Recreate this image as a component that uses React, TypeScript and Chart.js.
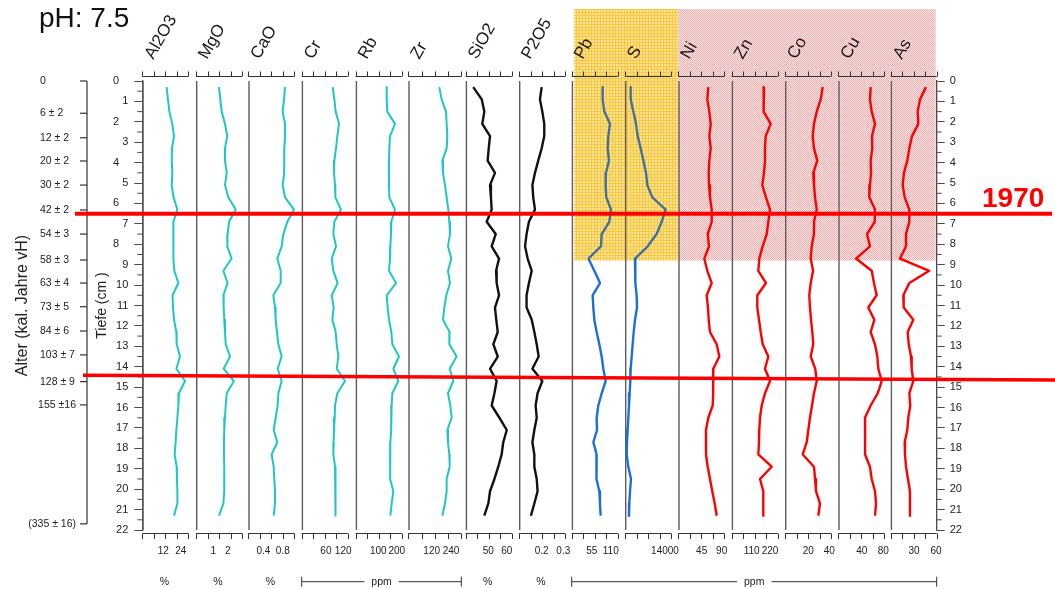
import React, { useEffect, useRef } from 'react';
import { Chart, registerables } from 'chart.js';

Chart.register(...registerables);

// ------------------------------------------------------------------ DATA
const depths = [0.3, 0.9, 1.5, 2.1, 2.7, 3.3, 3.9, 4.5, 5.1, 5.7, 6.3, 6.9, 7.5, 8.1, 8.7, 9.3, 9.9, 10.5, 11.1, 11.7, 12.3, 12.9, 13.5, 14.1, 14.7, 15.3, 15.9, 16.5, 17.1, 17.7, 18.3, 18.9, 19.5, 20.1, 20.7, 21.3];

const elements = ['Al2O3', 'MgO', 'CaO', 'Cr', 'Rb', 'Zr', 'SiO2', 'P2O5', 'Pb', 'S', 'Ni', 'Zn', 'Co', 'Cu', 'As'];

const al2o3 = [14.3, 15.2, 16.2, 18.2, 19.4, 18.0, 17.8, 18.2, 17.8, 19.1, 21.7, 18.9, 18.9, 18.9, 19.1, 19.6, 22.4, 18.4, 18.7, 19.4, 21.0, 21.2, 23.5, 21.0, 27.0, 22.8, 22.4, 21.7, 21.0, 20.5, 19.8, 21.2, 21.4, 21.7, 21.7, 19.4];
const mgo = [1.40, 1.49, 1.58, 1.81, 1.97, 1.81, 1.81, 1.93, 1.81, 2.04, 2.55, 2.09, 1.99, 1.97, 2.27, 1.70, 1.99, 1.70, 1.72, 1.76, 1.81, 1.86, 2.16, 1.72, 2.43, 1.93, 1.86, 1.81, 1.76, 1.74, 1.74, 1.76, 1.76, 1.76, 1.70, 1.40];
const cao = [0.846, 0.826, 0.798, 0.846, 0.846, 0.832, 0.832, 0.826, 0.798, 0.846, 1.032, 0.894, 0.812, 0.777, 0.688, 0.757, 0.757, 0.606, 0.640, 0.654, 0.681, 0.709, 0.777, 0.695, 0.777, 0.709, 0.695, 0.654, 0.613, 0.688, 0.571, 0.613, 0.626, 0.640, 0.640, 0.613];
const cr = [83.5, 89.3, 93.9, 105.5, 99.7, 95.1, 89.3, 88.1, 91.6, 92.8, 112.4, 89.3, 85.8, 95.1, 80.1, 85.8, 100.9, 80.1, 87.0, 82.4, 93.9, 97.4, 103.2, 97.4, 126.3, 99.7, 91.6, 90.5, 88.1, 87.0, 85.8, 91.6, 92.8, 93.9, 93.9, 92.8];
const rb = [145.4, 145.4, 149.0, 190.6, 163.5, 159.8, 158.0, 158.0, 158.0, 159.8, 190.6, 170.7, 168.9, 165.3, 163.5, 158.0, 196.0, 145.4, 150.8, 158.0, 170.7, 176.1, 212.3, 181.6, 208.7, 176.1, 172.5, 170.7, 168.9, 165.3, 163.5, 163.5, 165.3, 181.6, 172.5, 165.3];
const zr = [167.4, 181.9, 208.9, 213.0, 217.2, 213.0, 186.1, 190.2, 202.7, 213.0, 223.4, 229.6, 233.8, 221.3, 242.0, 221.3, 233.8, 211.0, 198.5, 190.2, 231.7, 229.6, 275.2, 231.7, 254.5, 221.3, 235.8, 244.1, 217.2, 221.3, 229.6, 231.7, 213.0, 213.0, 202.7, 186.1];
const sio2 = [41.8, 46.4, 47.8, 46.7, 50.9, 50.2, 49.6, 53.6, 50.9, 51.4, 51.8, 49.1, 54.0, 51.8, 55.8, 54.2, 54.5, 55.8, 53.6, 54.3, 55.1, 52.7, 55.1, 50.9, 54.5, 53.3, 51.8, 56.0, 60.0, 58.1, 57.2, 55.4, 53.3, 50.9, 50.0, 47.8];
const p2o5 = [0.200, 0.192, 0.203, 0.212, 0.212, 0.200, 0.184, 0.169, 0.157, 0.161, 0.169, 0.141, 0.130, 0.123, 0.135, 0.154, 0.141, 0.130, 0.130, 0.154, 0.166, 0.177, 0.186, 0.157, 0.203, 0.181, 0.172, 0.177, 0.166, 0.157, 0.166, 0.166, 0.177, 0.181, 0.166, 0.150];
const pb = [86.5, 86.5, 91.4, 107.7, 102.9, 101.0, 104.8, 96.2, 95.2, 97.1, 110.6, 105.8, 83.7, 81.7, 45.1, 62.5, 78.8, 57.6, 59.6, 62.5, 69.2, 76.9, 83.7, 88.5, 95.2, 83.7, 74.0, 69.2, 70.2, 59.6, 69.2, 68.2, 69.2, 76.9, 78.8, 80.8];
const s = [1985, 1985, 2918, 3852, 4435, 5485, 6418, 7352, 7818, 9568, 14235, 12835, 11085, 7935, 3502, 3502, 3735, 4085, 4202, 3502, 3035, 2685, 2335, 1985, 1868, 1635, 1402, 1168, 935, 702, 585, 1168, 2102, 1752, 1518, 1402];
const ni = [59.9, 57.7, 62.2, 65.3, 62.2, 65.3, 62.2, 60.8, 61.5, 63.7, 67.6, 67.6, 58.6, 61.5, 50.9, 57.7, 67.6, 56.3, 59.2, 60.8, 63.7, 78.8, 84.7, 71.2, 71.2, 70.5, 69.8, 59.9, 54.7, 54.7, 54.7, 58.6, 63.7, 68.9, 74.3, 78.8];
const zn = [183.9, 179.7, 183.9, 224.2, 194.1, 189.9, 189.9, 183.9, 173.7, 195.9, 220.0, 209.8, 200.2, 176.1, 155.7, 149.7, 195.9, 143.7, 143.7, 153.9, 164.1, 176.1, 209.8, 189.9, 220.0, 189.9, 170.1, 159.9, 155.7, 153.9, 149.7, 230.2, 159.9, 179.7, 179.7, 179.7];
const co = [33.7, 31.8, 28.0, 25.4, 24.2, 25.4, 28.5, 24.7, 25.4, 26.4, 28.0, 25.4, 25.4, 23.2, 22.3, 24.5, 22.3, 20.9, 21.6, 22.6, 23.8, 24.7, 22.3, 26.6, 28.0, 25.4, 23.5, 21.6, 20.0, 18.5, 14.7, 25.4, 26.4, 27.3, 31.1, 29.5];
const cu = [56.6, 55.3, 58.5, 64.6, 59.0, 59.6, 56.6, 57.2, 55.3, 54.1, 64.6, 64.0, 49.8, 55.3, 29.4, 58.5, 62.7, 67.7, 52.2, 63.3, 56.6, 64.6, 68.9, 70.7, 77.0, 69.6, 56.6, 46.1, 46.1, 46.1, 46.7, 55.3, 58.5, 64.6, 66.5, 64.6];
const as = [46.3, 38.2, 35.0, 35.8, 27.3, 23.6, 20.8, 16.3, 14.6, 17.3, 23.6, 23.6, 19.1, 19.1, 10.9, 50.8, 23.6, 15.4, 15.9, 29.0, 21.4, 22.8, 25.9, 26.8, 29.0, 23.6, 24.9, 22.2, 20.8, 17.3, 17.7, 19.1, 21.8, 24.5, 24.5, 24.5];

const seriesValues = [al2o3, mgo, cao, cr, rb, zr, sio2, p2o5, pb, s, ni, zn, co, cu, as];

// axis ranges of every panel (value at the panel's left edge, value at the end of its slot)
const axisMin = [-2.5, -0.19, 0.09, -24, -22.8, -25.5, 37.7, 0.095, -2.9, 0, -7.6, -10.2, -2.2, -3.3, -1.8];
const axisMax = [34.55, 3.42, 1.19, 163.4, 262.8, 331.5, 66.64, 0.339, 151.1, 18655, 112.55, 310.1, 48.54, 93.64, 60.94];
const axisTickValues = [[12, 24], [1, 2], [0.4, 0.8], [60, 120], [100, 200], [120, 240], [50, 60], [0.2, 0.3], [55, 110], [14000], [45, 90], [110, 220], [20, 40], [40, 80], [30, 60]];

const percentPanels = [0, 1, 2, 6, 7];
const ppmGroups = [[3, 5], [8, 14]];

const ageDepths = [0, 1.58, 2.78, 3.92, 5.1, 6.32, 7.5, 8.77, 9.9, 11.06, 12.25, 13.42, 14.73, 15.87, 21.7];
const ageLabels = ['0', '6 ± 2', '12 ± 2', '20 ± 2', '30 ± 2', '42 ± 2', '54 ± 3', '58 ± 3', '63 ± 4', '73 ± 5', '84 ± 6', '103 ± 7', '128 ± 9', '155 ±16', '(335 ± 16)'];

const marker1970Depth = 6.5;
const lowerMarkerDepths = [14.42, 14.65];
const shadedToDepth = 8.8;

// ------------------------------------------------------------------ STYLE
const SANS = "'Liberation Sans', Arial, Helvetica, sans-serif";
const AXIS_COLOR = '#4a4a4a';
const TEXT_COLOR = '#222222';
const CYAN = '#1fc6c8';
const BLACK = '#111111';
const BLUE = '#1b6fd8';
const SHADED_BLUE = '#41729e';
const RED = '#ff0000';
const lineColors = [CYAN, CYAN, CYAN, CYAN, CYAN, CYAN, BLACK, BLACK, BLUE, BLUE, RED, RED, RED, RED, RED];
const lineWidths = [2, 2, 2, 2, 2, 2, 2.4, 2.4, 2.4, 2.4, 2.4, 2.4, 2.4, 2.4, 2.4];
const panelWeights = [53.7, 52.3, 53.4, 54.0, 52.6, 57.4, 53.3, 52.7, 53.3, 53.3, 53.4, 53.3, 53.3, 52.4, 46.0];
const panelWidths = [46, 46, 46, 46, 46, 53, 46, 46, 46, 46, 46, 46, 46, 46, 46];

function makeTile(kind: 'yellow' | 'pink') {
  const c = document.createElement('canvas');
  const g = c.getContext('2d') as CanvasRenderingContext2D;
  if (kind === 'yellow') {
    c.width = 3; c.height = 3;
    g.fillStyle = '#FFE392'; g.fillRect(0, 0, 3, 3);
    g.fillStyle = '#F7C843'; g.fillRect(0, 0, 3, 1); g.fillRect(0, 0, 1, 3);
  } else {
    c.width = 2; c.height = 2;
    g.fillStyle = '#FDEBEB'; g.fillRect(0, 0, 2, 2);
    g.fillStyle = '#F5A8A8'; g.fillRect(0, 0, 1, 1); g.fillRect(1, 1, 1, 1);
  }
  return c;
}

function line(ctx: CanvasRenderingContext2D, x1: number, y1: number, x2: number, y2: number) {
  ctx.beginPath(); ctx.moveTo(x1, y1); ctx.lineTo(x2, y2); ctx.stroke();
}

const decorPlugin = {
  id: 'decor',
  beforeDatasetsDraw(chart: any) {
    const { ctx, chartArea: ca, scales } = chart;
    const ys = scales.y;
    const py = (d: number) => ys.getPixelForValue(d);
    ctx.save();

    // shaded zones
    const shadeTop = 9;
    const shadeBot = py(shadedToDepth);
    const yl = scales.x8.left + 2.5;
    const ym = scales.x10.left;
    const yr = scales.x14.right - 1;
    ctx.fillStyle = ctx.createPattern(makeTile('yellow'), 'repeat');
    ctx.fillRect(yl, shadeTop, ym - yl, shadeBot - shadeTop);
    ctx.fillStyle = ctx.createPattern(makeTile('pink'), 'repeat');
    ctx.fillRect(ym, shadeTop, yr - ym, shadeBot - shadeTop);

    // panels: left border, top and bottom tick rows, header label
    for (let i = 0; i < elements.length; i++) {
      const sc = scales['x' + i];
      const L = sc.left;
      const W = panelWidths[i];
      ctx.strokeStyle = '#5c5c5c';
      ctx.lineWidth = 1.4;
      line(ctx, L + 0.7, ca.top, L + 0.7, ca.bottom);
      ctx.strokeStyle = '#333';
      ctx.lineWidth = 1;
      const ty = ca.top - 4.5;
      const by = ca.bottom + 3.5;
      line(ctx, L, ty, L + W, ty);
      line(ctx, L, by, L + W, by);
      for (let j = 0; j <= 4; j++) {
        const x = Math.round(L + (j * W) / 4) + 0.5;
        line(ctx, x, ty, x, ty - 5);
        line(ctx, x, by, x, by + 5.5);
      }
      ctx.save();
      ctx.translate(L + 11, ca.top - 21);
      ctx.rotate(-Math.PI / 3);
      ctx.font = `17px ${SANS}`;
      ctx.fillStyle = '#1a1a1a';
      ctx.textAlign = 'left';
      ctx.textBaseline = 'alphabetic';
      ctx.fillText(elements[i], 0, 0);
      ctx.restore();
    }

    // minor depth ticks (half centimetres)
    ctx.strokeStyle = AXIS_COLOR;
    ctx.lineWidth = 1;
    for (let d = 0.5; d < 22; d += 1) {
      const y = py(d);
      line(ctx, ca.left - 5, y, ca.left, y);
      line(ctx, ca.right, y, ca.right + 5, y);
    }

    // age axis
    const ax = ca.left - 55.3;
    ctx.strokeStyle = '#333';
    ctx.lineWidth = 1.2;
    line(ctx, ax, py(0), ax, py(ageDepths[ageDepths.length - 1]));
    ctx.font = `10.5px ${SANS}`;
    ctx.fillStyle = TEXT_COLOR;
    ctx.textBaseline = 'middle';
    ctx.textAlign = 'left';
    ageDepths.forEach((d, k) => {
      const y = py(d);
      line(ctx, ax - 7, y, ax, y);
      const w = ctx.measureText(ageLabels[k]).width;
      const x = Math.min(40, ax - 11 - w);
      ctx.fillText(ageLabels[k], x, y);
    });
    ctx.save();
    ctx.translate(22.5, (ca.top + ca.bottom) / 2);
    ctx.rotate(-Math.PI / 2);
    ctx.font = `16px ${SANS}`;
    ctx.textAlign = 'center';
    ctx.textBaseline = 'middle';
    ctx.fillText('Alter (kal. Jahre vH)', 0, 0);
    ctx.restore();

    // units row
    const uy = ca.bottom + 51.7;
    ctx.font = `10.5px ${SANS}`;
    ctx.textAlign = 'center';
    ctx.textBaseline = 'middle';
    ctx.fillStyle = TEXT_COLOR;
    percentPanels.forEach((i) => {
      const sc = scales['x' + i];
      ctx.fillText('%', sc.left + panelWidths[i] / 2 - 1, uy);
    });
    ctx.strokeStyle = '#333';
    ctx.lineWidth = 1;
    ppmGroups.forEach(([a, b]) => {
      const x1 = scales['x' + a].left;
      const x2 = scales['x' + b].left + panelWidths[b];
      const mid = (x1 + x2) / 2;
      const w = ctx.measureText('ppm').width;
      line(ctx, x1, uy, mid - w / 2 - 7, uy);
      line(ctx, mid + w / 2 + 7, uy, x2, uy);
      line(ctx, x1, uy - 5, x1, uy + 5);
      line(ctx, x2, uy - 5, x2, uy + 5);
      ctx.fillText('ppm', mid, uy);
    });

    // pH caption
    ctx.font = `28px ${SANS}`;
    ctx.fillStyle = '#111';
    ctx.textAlign = 'left';
    ctx.textBaseline = 'alphabetic';
    ctx.fillText('pH: 7.5', 39, 27);

    ctx.restore();
  },
  afterDraw(chart: any) {
    const { ctx, scales } = chart;
    const py = (d: number) => scales.y.getPixelForValue(d);
    ctx.save();
    ctx.strokeStyle = RED;
    ctx.lineCap = 'butt';
    ctx.lineWidth = 4;
    line(ctx, 75, py(marker1970Depth), 1052, py(marker1970Depth));
    ctx.lineWidth = 3.4;
    line(ctx, 83, py(lowerMarkerDepths[0]), 1055, py(lowerMarkerDepths[1]));
    ctx.font = `bold 28px ${SANS}`;
    ctx.fillStyle = RED;
    ctx.textAlign = 'left';
    ctx.textBaseline = 'alphabetic';
    ctx.fillText('1970', 982, py(marker1970Depth) - 7);
    ctx.restore();
  },
};

function buildConfig(): any {
  const datasets = seriesValues.map((vals, i) => ({
    label: elements[i],
    data: depths.map((d, k) => ({ x: vals[k], y: d })),
    xAxisID: 'x' + i,
    yAxisID: 'y',
    showLine: true,
    borderColor: lineColors[i],
    borderWidth: lineWidths[i],
    borderJoinStyle: 'round',
    pointRadius: 0,
    pointHoverRadius: 0,
    fill: false,
    tension: 0,
    segment:
      i === 8 || i === 9
        ? {
            borderColor: (c: any) =>
              (c.p0.parsed.y + c.p1.parsed.y) / 2 < shadedToDepth ? SHADED_BLUE : BLUE,
          }
        : undefined,
  }));

  const depthLabel = (v: number) => (v < 10 && v % 2 === 0 ? `${v}\u2007 ` : `${v}`);

  const scales: any = {
    y: {
      type: 'linear',
      position: 'left',
      reverse: true,
      min: 0,
      max: 22,
      ticks: { stepSize: 1, autoSkip: false, padding: 6, color: TEXT_COLOR, font: { family: SANS, size: 11 }, callback: depthLabel },
      grid: { display: true, drawOnChartArea: false, drawTicks: true, tickLength: 8, color: AXIS_COLOR, lineWidth: 1 },
      border: { display: true, color: AXIS_COLOR, width: 1.3 },
      title: { display: true, text: 'Tiefe (cm )', color: TEXT_COLOR, font: { family: SANS, size: 14 }, padding: { top: 2, bottom: 0 } },
      afterFit: (sc: any) => { sc.width = 50.3; },
    },
    yR: {
      type: 'linear',
      axis: 'y',
      position: 'right',
      reverse: true,
      min: 0,
      max: 22,
      ticks: { stepSize: 1, autoSkip: false, padding: 5, color: TEXT_COLOR, font: { family: SANS, size: 11 } },
      grid: { display: true, drawOnChartArea: false, drawTicks: true, tickLength: 8, color: AXIS_COLOR, lineWidth: 1 },
      border: { display: true, color: AXIS_COLOR, width: 1.3 },
      afterFit: (sc: any) => { sc.width = 40; },
    },
  };
  elements.forEach((_, i) => {
    scales['x' + i] = {
      type: 'linear',
      axis: 'x',
      position: 'bottom',
      stack: 'panels',
      stackWeight: panelWeights[i],
      min: axisMin[i],
      max: axisMax[i],
      grid: { display: false, drawTicks: false },
      border: { display: false },
      ticks: {
        autoSkip: false,
        maxRotation: 0,
        minRotation: 0,
        padding: 15,
        color: TEXT_COLOR,
        font: { family: SANS, size: 10 },
        callback: (v: number) => String(v),
      },
      afterBuildTicks: (sc: any) => { sc.ticks = axisTickValues[i].map((v) => ({ value: v })); },
      afterFit: (sc: any) => { sc.height = 30; },
    };
  });

  return {
    type: 'scatter',
    data: { datasets },
    options: {
      animation: false,
      responsive: false,
      devicePixelRatio: 1,
      events: [],
      layout: { padding: { left: 92, right: 78.3, top: 81, bottom: 29 } },
      plugins: { legend: { display: false }, tooltip: { enabled: false }, title: { display: false } },
      scales,
    },
    plugins: [decorPlugin],
  };
}

export default function App() {
  const ref = useRef<HTMLCanvasElement>(null);
  useEffect(() => {
    if (!ref.current) return;
    const chart = new Chart(ref.current, buildConfig());
    return () => chart.destroy();
  }, []);
  return (
    <div style={{ position: 'absolute', left: 0, top: 0, width: 1055, height: 589, background: '#fff' }}>
      <canvas ref={ref} width={1055} height={589} style={{ width: 1055, height: 589, display: 'block' }} />
    </div>
  );
}
